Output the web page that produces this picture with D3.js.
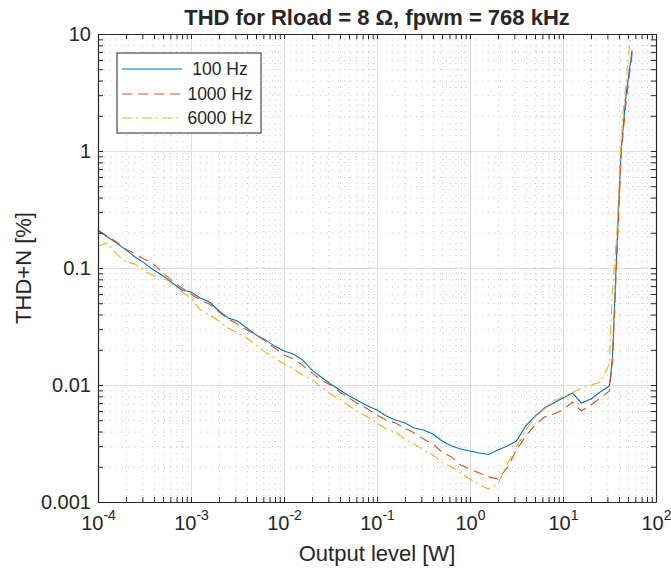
<!DOCTYPE html>
<html>
<head>
<meta charset="utf-8">
<script src="https://cdn.jsdelivr.net/npm/d3@7"></script>
<style>
  body { margin: 0; background: #fff; }
  text { font-family: "Liberation Sans", Arial, sans-serif; fill: #262626; }
</style>
</head>
<body>
<div id="chart"></div>
<script>
// output levels of the sweep [W]
var levels = [1.0e-4, 1.26e-4, 1.58e-4, 2.0e-4, 2.51e-4, 3.16e-4, 3.98e-4, 5.01e-4, 6.31e-4, 7.94e-4,
  1.0e-3, 1.26e-3, 1.58e-3, 2.0e-3, 2.51e-3, 3.16e-3, 3.98e-3, 5.01e-3, 6.31e-3, 7.94e-3,
  0.01, 0.0126, 0.0158, 0.02, 0.0251, 0.0316, 0.0398, 0.0501, 0.0631, 0.0794,
  0.1, 0.126, 0.158, 0.2, 0.251, 0.316, 0.398, 0.501, 0.631, 0.794,
  1.0, 1.26, 1.58, 2.0, 2.51, 3.16, 3.98, 5.01, 6.31, 7.94,
  10, 12.6, 15.8, 20, 25.1, 31.6];

// THD+N [%]
var thd100 = [0.211, 0.184, 0.164, 0.143, 0.124, 0.110, 0.096, 0.0855, 0.0745, 0.0649,
  0.0624, 0.0554, 0.0512, 0.0429, 0.0374, 0.0352, 0.0307, 0.0267, 0.0243, 0.0215,
  0.0195, 0.0184, 0.0164, 0.0134, 0.0117, 0.0102, 0.00906, 0.00805, 0.00730, 0.00662,
  0.00611, 0.00543, 0.00502, 0.00473, 0.00429, 0.00412, 0.00381, 0.00332, 0.00301, 0.00284,
  0.00273, 0.00262, 0.00255, 0.00278, 0.00301, 0.00332, 0.00447, 0.00543, 0.00636, 0.00702,
  0.00774, 0.00855, 0.00702, 0.00759, 0.00871, 0.0098];
var thd1000 = [0.207, 0.188, 0.167, 0.145, 0.132, 0.119, 0.108, 0.0906, 0.0775, 0.0675,
  0.060, 0.0533, 0.0492, 0.0421, 0.0367, 0.0332, 0.0295, 0.0267, 0.0238, 0.0207,
  0.0180, 0.0167, 0.0148, 0.0127, 0.0110, 0.0100, 0.00871, 0.00774, 0.00689, 0.00624,
  0.00554, 0.00502, 0.00473, 0.00429, 0.00389, 0.00345, 0.00313, 0.00267, 0.00243, 0.00207,
  0.00191, 0.00177, 0.00164, 0.00157, 0.00195, 0.00278, 0.00367, 0.00455, 0.00532, 0.00565,
  0.00611, 0.00716, 0.0060, 0.00675, 0.00774, 0.00889];
var thd6000 = [0.154, 0.164, 0.132, 0.1125, 0.108, 0.0942, 0.0855, 0.0838, 0.0730, 0.0624,
  0.0554, 0.0438, 0.0397, 0.0352, 0.0307, 0.0278, 0.0252, 0.0220, 0.0191, 0.0170,
  0.0151, 0.0137, 0.0122, 0.0112, 0.0096, 0.00838, 0.00759, 0.00662, 0.00588, 0.00532,
  0.00473, 0.00421, 0.00396, 0.00345, 0.00313, 0.00278, 0.00252, 0.00220, 0.00199, 0.00177,
  0.00157, 0.00140, 0.00129, 0.00143, 0.00211, 0.00295, 0.00412, 0.00532, 0.00624, 0.00730,
  0.00789, 0.00855, 0.00943, 0.0100, 0.0106, 0.0151];

// clipping tail at the top of the sweep
var tailLevels100 = [34.0, 37.2, 42.1, 47.6, 55.2];
var tail100 = [0.017, 0.1, 1.0, 3.0, 7.2];
var tailLevels1000 = [34.0, 37.4, 42.3, 47.9, 56.0];
var tail1000 = [0.016, 0.096, 0.96, 2.73, 7.2];
var tailLevels6000 = [33.6, 38.1, 41.0, 44.2, 48.8, 52.5];
var tail6000 = [0.0565, 0.211, 0.789, 2.11, 4.65, 8.9];

var seriesNames = ["100 Hz", "1000 Hz", "6000 Hz"];
var seriesColors = ["#0072BD", "#D95319", "#EDB120"];
var seriesDash = [null, "10,6", "10,4,2,4"];

var svgW = 671, svgH = 569;
var pLeft = 98, pRight = 656, pTop = 34, pBottom = 502;

var svg = d3.select('#chart').append('svg')
  .attr('width', svgW).attr('height', svgH);

var x = d3.scaleLog().domain([1e-4, 1e2]).range([pLeft, pRight]);
var y = d3.scaleLog().domain([1e-3, 10]).range([pBottom, pTop]);

var isMajor = function(v) { return Math.abs(Math.log10(v) - Math.round(Math.log10(v))) < 1e-9; };
var xAll = x.ticks(), yAll = y.ticks();
var xMajor = xAll.filter(isMajor), xMinor = xAll.filter(function(v) { return !isMajor(v); });
var yMajor = yAll.filter(isMajor), yMinor = yAll.filter(function(v) { return !isMajor(v); });

// minor grid (dotted)
svg.append('g').attr('transform', 'translate(0,' + pBottom + ')')
  .call(d3.axisBottom(x).tickValues(xMinor).tickSize(-(pBottom - pTop)).tickFormat(''))
  .call(function(g) { g.select('.domain').remove(); })
  .selectAll('line').attr('stroke', '#c4c4c4').attr('stroke-dasharray', '1,5');
svg.append('g').attr('transform', 'translate(' + pLeft + ',0)')
  .call(d3.axisLeft(y).tickValues(yMinor).tickSize(-(pRight - pLeft)).tickFormat(''))
  .call(function(g) { g.select('.domain').remove(); })
  .selectAll('line').attr('stroke', '#c4c4c4').attr('stroke-dasharray', '1,5');

// major grid
svg.append('g').attr('transform', 'translate(0,' + pBottom + ')')
  .call(d3.axisBottom(x).tickValues(xMajor).tickSize(-(pBottom - pTop)).tickFormat(''))
  .call(function(g) { g.select('.domain').remove(); })
  .selectAll('line').attr('stroke', '#dedede');
svg.append('g').attr('transform', 'translate(' + pLeft + ',0)')
  .call(d3.axisLeft(y).tickValues(yMajor).tickSize(-(pRight - pLeft)).tickFormat(''))
  .call(function(g) { g.select('.domain').remove(); })
  .selectAll('line').attr('stroke', '#dedede');

// data lines
var line = d3.line().x(function(d) { return x(d[0]); }).y(function(d) { return y(d[1]); });
var allSeries = [
  { xs: levels.concat(tailLevels100), ys: thd100.concat(tail100) },
  { xs: levels.concat(tailLevels1000), ys: thd1000.concat(tail1000) },
  { xs: levels.concat(tailLevels6000), ys: thd6000.concat(tail6000) }
];
allSeries.forEach(function(s, i) {
  svg.append('path')
    .datum(d3.zip(s.xs, s.ys))
    .attr('fill', 'none')
    .attr('stroke', seriesColors[i])
    .attr('stroke-width', 1.1)
    .attr('stroke-dasharray', seriesDash[i])
    .attr('d', line);
});

// axes with inward ticks on all four sides
function styleAxis(g) {
  g.selectAll('.domain').attr('stroke', '#262626').attr('stroke-width', 1.2);
  g.selectAll('.tick line').attr('stroke', '#262626');
}
var xb = svg.append('g').attr('transform', 'translate(0,' + pBottom + ')')
  .call(d3.axisBottom(x).tickValues(xAll).tickSizeInner(-5).tickSizeOuter(0).tickPadding(14)
    .tickFormat(function(d) { return isMajor(d) ? d : ''; }))
  .call(styleAxis);
svg.append('g').attr('transform', 'translate(0,' + pTop + ')')
  .call(d3.axisTop(x).tickValues(xAll).tickSizeInner(-5).tickSizeOuter(0).tickFormat(''))
  .call(styleAxis);
var yl = svg.append('g').attr('transform', 'translate(' + pLeft + ',0)')
  .call(d3.axisLeft(y).tickValues(yAll).tickSizeInner(-5).tickSizeOuter(0).tickPadding(7)
    .tickFormat(function(d) { return isMajor(d) ? d3.format('~g')(d) : ''; }))
  .call(styleAxis);
svg.append('g').attr('transform', 'translate(' + pRight + ',0)')
  .call(d3.axisRight(y).tickValues(yAll).tickSizeInner(-5).tickSizeOuter(0).tickFormat(''))
  .call(styleAxis);

yl.selectAll('text').attr('font-size', 20).attr('fill', '#262626')
  .style('font-family', '"Liberation Sans", Arial, sans-serif');

// x labels as 10 with superscript exponent
xb.selectAll('.tick text').each(function(d) {
  var t = d3.select(this);
  t.text('').attr('font-size', 20).attr('fill', '#262626')
    .style('font-family', '"Liberation Sans", Arial, sans-serif');
  if (!isMajor(d)) return;
  t.append('tspan').text('10');
  t.append('tspan').attr('dy', -10).attr('font-size', 14).text(Math.round(Math.log10(d)));
});

// title and axis labels
svg.append('text').attr('x', (pLeft + pRight) / 2).attr('y', 25)
  .attr('text-anchor', 'middle').attr('font-size', 22).attr('font-weight', 'bold')
  .text('THD for Rload = 8 \u03A9, fpwm = 768 kHz');
svg.append('text').attr('x', (pLeft + pRight) / 2).attr('y', 561)
  .attr('text-anchor', 'middle').attr('font-size', 22)
  .text('Output level [W]');
svg.append('text')
  .attr('transform', 'translate(31,' + (pTop + pBottom) / 2 + ') rotate(-90)')
  .attr('text-anchor', 'middle').attr('font-size', 22)
  .text('THD+N [%]');

// legend
var legend = svg.append('g');
legend.append('rect').attr('x', 117).attr('y', 53).attr('width', 144).attr('height', 80)
  .attr('fill', '#fff').attr('stroke', '#262626').attr('stroke-width', 1);
var rowY = [69, 94, 118];
seriesNames.forEach(function(name, i) {
  legend.append('line').attr('x1', 122).attr('x2', 182).attr('y1', rowY[i]).attr('y2', rowY[i])
    .attr('stroke', seriesColors[i]).attr('stroke-width', 1.1)
    .attr('stroke-dasharray', seriesDash[i]);
  legend.append('text').attr('x', 220).attr('y', rowY[i] + 6)
    .attr('text-anchor', 'middle').attr('font-size', 17.5).text(name);
});
</script>
</body>
</html>
